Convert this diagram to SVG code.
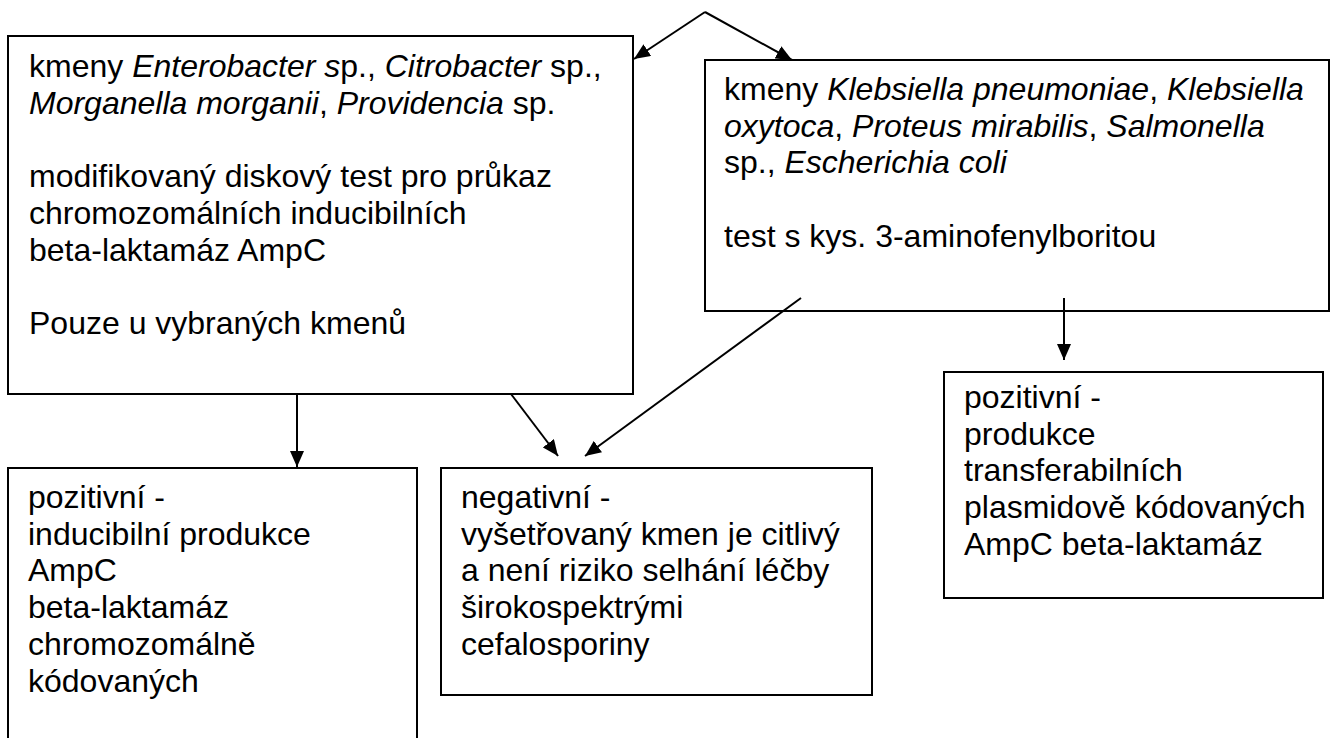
<svg xmlns="http://www.w3.org/2000/svg" width="1334" height="738" viewBox="0 0 1334 738">
<style>
.box{fill:#fff;stroke:#000;stroke-width:2}
.t{font-family:"Liberation Sans",Arial,sans-serif;font-size:32px;fill:#000}
.i{font-style:italic}
</style>
<defs>
<marker id="arr" viewBox="0 0 16 14" refX="16" refY="7" markerWidth="16" markerHeight="14" markerUnits="userSpaceOnUse" orient="auto">
<path d="M0,0 L16,7 L0,14 Z" fill="#000"/>
</marker>
</defs>
<rect width="1334" height="738" fill="#fff"/>
<g id="box1">
<rect class="box" x="8" y="36" width="625" height="358"/>
<text class="t" x="29" y="77">kmeny <tspan class="i">Enterobacter s</tspan>p., <tspan class="i">Citrobacter</tspan> sp.,</text>
<text class="t" x="29" y="113.7"><tspan class="i">Morganella morganii</tspan>, <tspan class="i">Providencia</tspan> sp.</text>
<text class="t" x="29" y="187">modifikovaný diskový test pro průkaz</text>
<text class="t" x="29" y="223.8">chromozomálních inducibilních</text>
<text class="t" x="29" y="260.5">beta-laktamáz AmpC</text>
<text class="t" x="29" y="334">Pouze u vybraných kmenů</text>
</g>
<g id="box2">
<rect class="box" x="705" y="60" width="624" height="251"/>
<text class="t" x="724" y="100">kmeny <tspan class="i">Klebsiella pneumoniae</tspan>, <tspan class="i">Klebsiella</tspan></text>
<text class="t" x="724" y="136.7"><tspan class="i">oxytoca</tspan>, <tspan class="i">Proteus mirabilis</tspan>, <tspan class="i">Salmonella</tspan></text>
<text class="t" x="724" y="173.4">sp., <tspan class="i">Escherichia coli</tspan></text>
<text class="t" x="724" y="246.8">test s kys. 3-aminofenylboritou</text>
</g>
<g id="box3">
<rect class="box" x="8" y="468" width="409" height="290"/>
<text class="t" x="28" y="508">pozitivní -</text>
<text class="t" x="28" y="544.7">inducibilní produkce</text>
<text class="t" x="28" y="581.4">AmpC</text>
<text class="t" x="28" y="618.1">beta-laktamáz</text>
<text class="t" x="28" y="654.8">chromozomálně</text>
<text class="t" x="28" y="691.5">kódovaných</text>
</g>
<g id="box4">
<rect class="box" x="441" y="468" width="431" height="227"/>
<text class="t" x="461" y="508">negativní -</text>
<text class="t" x="461" y="544.7">vyšetřovaný kmen je citlivý</text>
<text class="t" x="461" y="581.4">a není riziko selhání léčby</text>
<text class="t" x="461" y="618.1">širokospektrými</text>
<text class="t" x="461" y="654.8">cefalosporiny</text>
</g>
<g id="box5">
<rect class="box" x="944" y="372" width="379" height="226"/>
<text class="t" x="964" y="408">pozitivní -</text>
<text class="t" x="964" y="444.7">produkce</text>
<text class="t" x="964" y="481.4">transferabilních</text>
<text class="t" x="964" y="518.1">plasmidově kódovaných</text>
<text class="t" x="964" y="554.8">AmpC beta-laktamáz</text>
</g>
<g id="connectors" stroke="#000" stroke-width="2" fill="none">
<path d="M705,12 L634,59" marker-end="url(#arr)"/>
<path d="M705,12 L792,60" marker-end="url(#arr)"/>
<path d="M297,394 L297,467" marker-end="url(#arr)"/>
<path d="M511,394 L558,456" marker-end="url(#arr)"/>
<path d="M801,298 L585,456" marker-end="url(#arr)"/>
<path d="M1064,298 L1064,360" marker-end="url(#arr)"/>
</g>
</svg>
